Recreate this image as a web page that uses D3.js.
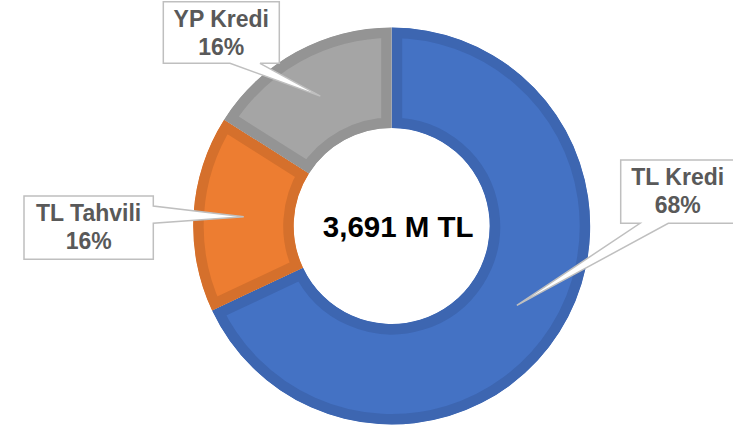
<!DOCTYPE html>
<html>
<head>
<meta charset="utf-8">
<script src="https://cdn.jsdelivr.net/npm/d3@7"></script>
<style>
  html, body { margin: 0; padding: 0; background: #fff; }
  svg { display: block; font-family: "Liberation Sans", Arial, sans-serif; }
</style>
</head>
<body>
<div id="chart"></div>
<script>
// data
const labels = ["TL Kredi", "TL Tahvili", "YP Kredi"];
const shares = [68, 16, 16];
const totalLabel = "3,691 M TL";

const width = 733;
const height = 429;
const cx = 391.7;
const cy = 226;
const outerR = 198.5;
const innerR = 98;

const fill = d3.scaleOrdinal().domain(labels).range(["#4472c4", "#ed7d31", "#a5a5a5"]);
const edge = d3.scaleOrdinal().domain(labels).range(["#3d66b1", "#d5702c", "#949494"]);

// callout boxes: box + where the pointer leaves the box
const callouts = {
  "TL Kredi":   { x: 620.7, y: 160, w: 114, h: 63.3, side: "bottom", a: 640, b: 668.3 },
  "TL Tahvili": { x: 24, y: 196, w: 129.3, h: 63.3, side: "right", a: 206, b: 223.3 },
  "YP Kredi":   { x: 163.3, y: 1.7, w: 116, h: 61.6, side: "bottom", a: 230, b: 260 }
};

const svg = d3.select("#chart")
  .append("svg")
  .attr("width", width)
  .attr("height", height);

const pie = d3.pie().sort(null).value(d => d.value);
const arcs = pie(labels.map((l, i) => ({ label: l, value: shares[i] })));
const arc = d3.arc().innerRadius(innerR).outerRadius(outerR);

const g = svg.append("g").attr("transform", `translate(${cx},${cy})`);

const defs = svg.append("defs");
defs.selectAll("clipPath")
  .data(arcs)
  .enter()
  .append("clipPath")
  .attr("id", (d, i) => "clip" + i)
  .append("path")
  .attr("d", arc);

g.selectAll("path.slice")
  .data(arcs)
  .enter()
  .append("path")
  .attr("class", "slice")
  .attr("d", arc)
  .attr("fill", d => fill(d.data.label))
  .attr("stroke", d => edge(d.data.label))
  .attr("stroke-width", 21)
  .attr("clip-path", (d, i) => `url(#clip${i})`);

g.append("text")
  .attr("x", 6.5)
  .attr("y", 11)
  .attr("text-anchor", "middle")
  .style("font-size", "29.5px")
  .style("font-weight", "bold")
  .attr("fill", "#000")
  .text(totalLabel);

function calloutPath(c, tip) {
  const x0 = c.x, y0 = c.y, x1 = c.x + c.w, y1 = c.y + c.h;
  if (c.side === "bottom") {
    return `M${x0},${y0}H${x1}V${y1}H${c.b}L${tip[0]},${tip[1]}L${c.a},${y1}H${x0}Z`;
  }
  return `M${x0},${y0}H${x1}V${c.a}L${tip[0]},${tip[1]}L${x1},${c.b}V${y1}H${x0}Z`;
}

const labelGroups = svg.selectAll("g.callout")
  .data(arcs)
  .enter()
  .append("g")
  .attr("class", "callout");

labelGroups.append("path")
  .attr("d", d => {
    const c = arc.centroid(d);
    return calloutPath(callouts[d.data.label], [c[0] + cx, c[1] + cy]);
  })
  .attr("fill", "#fff")
  .attr("stroke", "#bfbfbf")
  .attr("stroke-width", 1.5)
  .attr("stroke-linejoin", "miter");

const txt = labelGroups.append("text")
  .attr("text-anchor", "middle")
  .attr("fill", "#595959")
  .style("font-size", "23px")
  .style("font-weight", "bold");

txt.append("tspan")
  .attr("x", d => callouts[d.data.label].x + callouts[d.data.label].w / 2)
  .attr("y", d => callouts[d.data.label].y + 25)
  .text(d => d.data.label);

txt.append("tspan")
  .attr("x", d => callouts[d.data.label].x + callouts[d.data.label].w / 2)
  .attr("y", d => callouts[d.data.label].y + 53.3)
  .text(d => d.data.value + "%");
</script>
</body>
</html>
